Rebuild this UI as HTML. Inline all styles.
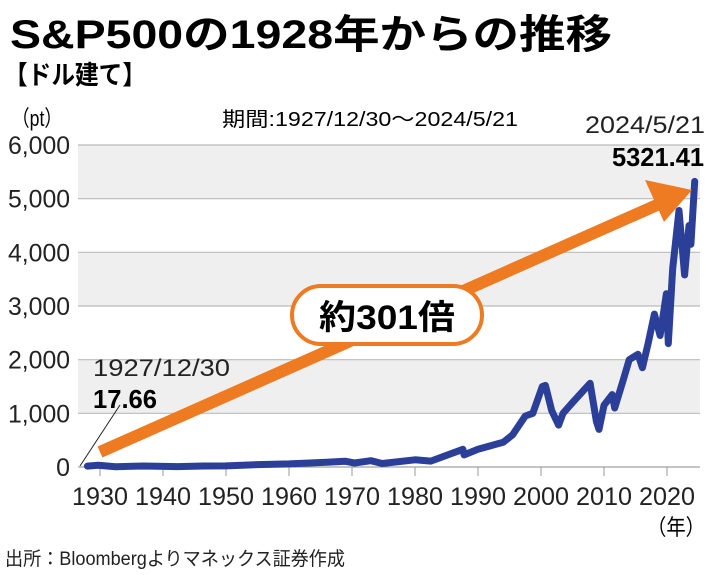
<!DOCTYPE html>
<html><head><meta charset="utf-8"><style>
html,body{margin:0;padding:0;background:#fff;}
svg{display:block;font-family:"Liberation Sans Narrow","Liberation Sans","Noto Sans CJK JP",sans-serif;}
</style></head><body>
<svg id="chart" width="710" height="575" viewBox="0 0 710 575">
<text x="10" y="48" font-size="40" font-weight="bold" textLength="602" lengthAdjust="spacingAndGlyphs" font-family="Liberation Sans, Noto Sans CJK JP, sans-serif">S&amp;P500の1928年からの推移</text>
<text x="4" y="84" font-size="26" font-weight="bold" textLength="142" lengthAdjust="spacingAndGlyphs" font-family="Liberation Sans, Noto Sans CJK JP, sans-serif">【ドル建て】</text>
<text x="12" y="126" font-size="22" textLength="50" lengthAdjust="spacingAndGlyphs">（pt）</text>
<text x="222" y="126" font-size="20" textLength="296" lengthAdjust="spacingAndGlyphs">期間:1927/12/30〜2024/5/21</text>
<g id="bands"></g>
<g id="yticks"></g>
<g id="xticks"></g>
<g id="series"></g>
<line x1="120" y1="405" x2="80" y2="466" stroke="#222" stroke-width="1"/>
<g>
<line x1="100" y1="452" x2="657" y2="205" stroke="#ee7a22" stroke-width="12"/>
<polygon points="692,190 645,180 664,222" fill="#ee7a22"/>
</g>
<g>
<rect x="292" y="286" width="190" height="58" rx="29" fill="#fff" stroke="#ee7a22" stroke-width="4"/>
<text x="387" y="329" font-size="34" font-weight="bold" text-anchor="middle" textLength="136" lengthAdjust="spacingAndGlyphs" font-family="Liberation Sans, Noto Sans CJK JP, sans-serif">約301倍</text>
</g>
<text x="93" y="376" font-size="24" textLength="137" lengthAdjust="spacingAndGlyphs" fill="#222">1927/12/30</text>
<text x="93" y="408" font-size="26" font-weight="bold" textLength="64" lengthAdjust="spacingAndGlyphs">17.66</text>
<text x="585" y="133" font-size="24" textLength="120" lengthAdjust="spacingAndGlyphs" fill="#222">2024/5/21</text>
<text x="612" y="166" font-size="26" font-weight="bold" textLength="92" lengthAdjust="spacingAndGlyphs">5321.41</text>
<text x="647" y="535" font-size="22" textLength="58" lengthAdjust="spacingAndGlyphs">（年）</text>
<text x="5" y="565" font-size="19" textLength="340" lengthAdjust="spacingAndGlyphs" fill="#222">出所：Bloombergよりマネックス証券作成</text>
</svg>
<script>
const yTicks=[0,1000,2000,3000,4000,5000,6000];
const yTickLabels=["0","1,000","2,000","3,000","4,000","5,000","6,000"];
const xTicks=[1930,1940,1950,1960,1970,1980,1990,2000,2010,2020];
const years=[1928,1929.7,1932.5,1937,1942.3,1946.4,1950,1955,1960,1966,1968.9,1970.4,1973,1974.8,1980,1982.5,1987.6,1987.8,1990,1994,1995.5,1997.5,1998.7,2000.2,2000.7,2001.7,2002.8,2003.5,2005,2007.8,2008.8,2009.2,2010,2011.3,2011.7,2013,2014,2015.4,2016.1,2017,2018,2018.9,2019.9,2020.2,2020.9,2021.9,2022.8,2023.5,2023.8,2024.4];
const values=[17.66,31,5,18,8,18,20,45,58,90,108,75,118,65,135,110,330,225,330,460,600,950,1000,1500,1520,1050,780,1000,1200,1560,850,700,1150,1350,1100,1600,2000,2100,1850,2300,2850,2450,3230,2300,3700,4780,3580,4500,4150,5321];
const NS="http://www.w3.org/2000/svg";
const X0=78,X1=700,Y0=467,Y1=145;
const xs=y=>100+(y-1930)*6.3;
const ys=v=>Y0-(v/6000)*(Y0-Y1);
function mk(tag,attrs,parent){const e=document.createElementNS(NS,tag);for(const k in attrs)e.setAttribute(k,attrs[k]);parent.appendChild(e);return e;}
const bands=document.getElementById('bands');
for(let i=1;i<yTicks.length;i+=2){
  const r=mk('rect',{x:X0,y:ys(yTicks[i+1]),width:X1-X0,height:ys(yTicks[i])-ys(yTicks[i+1]),fill:'#efefef'},bands);
  
  
}
const yt=document.getElementById('yticks');
yTicks.forEach((v,i)=>{
  const l=mk('line',{x1:X0,x2:X1,y1:ys(v),y2:ys(v),stroke:'#bbb','stroke-width':1.2},yt);
  
  
  const t=mk('text',{x:70,y:ys(v)+9,'font-size':25,'text-anchor':'end',fill:'#222'},yt);
  if(yTickLabels[i].length>1){t.setAttribute('textLength',62);t.setAttribute('lengthAdjust','spacingAndGlyphs');}
  t.textContent=yTickLabels[i];
  
  
});
const xt=document.getElementById('xticks');
mk('line',{x1:X0,x2:X1,y1:Y0,y2:Y0,stroke:'#999','stroke-width':1},xt);
xTicks.forEach(v=>{
  const l=mk('line',{x1:xs(v),x2:xs(v),y1:Y0,y2:Y0+9,stroke:'#999','stroke-width':1},xt);
  
  
  const t=mk('text',{x:xs(v),y:505,'font-size':25,'text-anchor':'middle',fill:'#222',textLength:56,lengthAdjust:'spacingAndGlyphs'},xt);
  t.textContent=String(v);
  
  
});
const s=document.getElementById('series');
const p=mk('polyline',{points:years.map((y,i)=>xs(y).toFixed(1)+','+ys(values[i]).toFixed(1)).join(' '),fill:'none',stroke:'#2b3f99','stroke-width':7,'stroke-linejoin':'round','stroke-linecap':'round'},s);


</script>
</body></html>
